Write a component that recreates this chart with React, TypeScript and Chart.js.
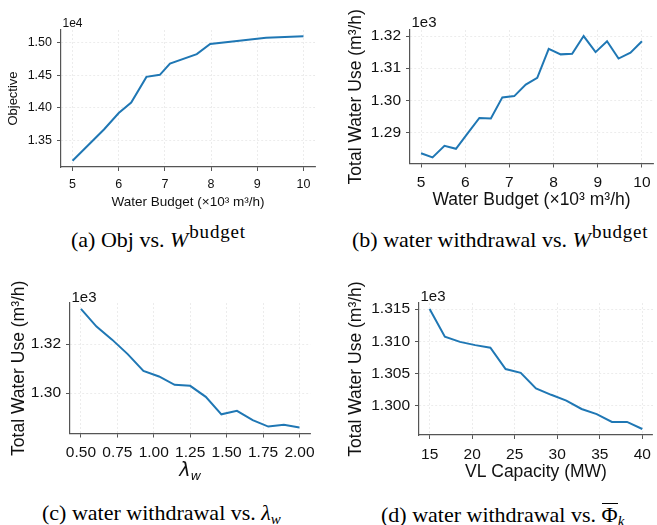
import React, { useEffect, useRef } from "react";
import { Chart, registerables } from "chart.js";

Chart.register(...registerables);

// (a) Objective vs. water budget (x: ×10³ m³/h, y: objective)
const budgetA = [5, 5.68, 6.0, 6.27, 6.6, 6.89, 7.11, 7.69, 7.98, 8.61, 9.19, 10];
const objectiveA = [13186, 13667, 13920, 14080, 14474, 14505, 14677, 14823, 14979, 15030, 15075, 15098];
const budgetTicksA = [5, 6, 7, 8, 9, 10];
const objectiveTicksA = [13500, 14000, 14500, 15000];

// (b) Total water use vs. water budget
const budgetB = [5, 5.26, 5.53, 5.79, 6.05, 6.32, 6.58, 6.84, 7.11, 7.37, 7.63, 7.89, 8.16, 8.42, 8.68, 8.95, 9.21, 9.47, 9.74, 10];
const waterB = [1283.5, 1282.2, 1285.8, 1284.9, 1289.6, 1294.5, 1294.3, 1300.9, 1301.3, 1304.9, 1307.0, 1316.0, 1314.3, 1314.5, 1320.0, 1315.0, 1318.4, 1313.0, 1314.8, 1318.4];
const budgetTicksB = [5, 6, 7, 8, 9, 10];
const waterTicksB = [1290, 1300, 1310, 1320];

// (c) Total water use vs. lambda_w
const lambdaC = [0.5, 0.607, 0.714, 0.821, 0.929, 1.036, 1.143, 1.25, 1.357, 1.464, 1.571, 1.679, 1.786, 1.893, 2.0];
const waterC = [1334.3, 1327.1, 1321.8, 1315.9, 1309.1, 1306.8, 1303.4, 1303.0, 1298.5, 1291.4, 1292.8, 1289.0, 1286.4, 1287.1, 1286.0];
const lambdaTicksC = [0.5, 0.75, 1.0, 1.25, 1.5, 1.75, 2.0];
const waterTicksC = [1300, 1320];

// (d) Total water use vs. VL capacity
const capacityD = [15, 16.79, 18.57, 20.36, 22.14, 23.93, 25.71, 27.5, 29.29, 31.07, 32.86, 34.64, 36.43, 38.21, 40];
const waterD = [1315.0, 1310.7, 1309.9, 1309.4, 1309.0, 1305.7, 1305.1, 1302.7, 1301.7, 1300.8, 1299.5, 1298.7, 1297.5, 1297.5, 1296.4];
const capacityTicksD = [15, 20, 25, 30, 35, 40];
const waterTicksD = [1300, 1305, 1310, 1315];

const SANS = '"Liberation Sans", Arial, Helvetica, sans-serif';
const SERIF = '"Liberation Serif", "Times New Roman", serif';

function span(v: number[]): [number, number] {
  const lo = Math.min(...v);
  const hi = Math.max(...v);
  const m = (hi - lo) * 0.05;
  return [lo - m, hi + m];
}

type PanelProps = {
  xs: number[];
  ys: number[];
  xTicks: number[];
  yTicks: number[];
  xFmt: (v: number) => string;
  yFmt: (v: number) => string;
  xTitle: string | null;
  yTitle: string;
  offsetText: string;
  left: number;
  top: number;
  width: number;
  height: number;
  padL: number;
  padT: number;
  padR: number;
  yW: number;
  xH: number;
  tickSize: number;
  xTitleSize: number;
  yTitleSize: number;
  offsetSize: number;
  offsetDy: number;
  lambdaTitleY?: number;
};

function Panel(p: PanelProps) {
  const ref = useRef<HTMLCanvasElement | null>(null);
  useEffect(() => {
    if (!ref.current) return;
    const [xmin, xmax] = span(p.xs);
    const [ymin, ymax] = span(p.ys);
    const extras = {
      id: "extras",
      afterDraw(chart: any) {
        const { ctx, chartArea } = chart;
        ctx.save();
        ctx.fillStyle = "#111";
        ctx.font = `${p.offsetSize}px ${SANS}`;
        ctx.textAlign = "left";
        ctx.textBaseline = "alphabetic";
        ctx.fillText(p.offsetText, chartArea.left + 1.5, chartArea.top - p.offsetDy);
        if (p.lambdaTitleY !== undefined) {
          const cx = (chartArea.left + chartArea.right) / 2;
          const f1 = `italic 19px "DejaVu Sans", sans-serif`;
          const f2 = `italic 13px "DejaVu Sans", sans-serif`;
          ctx.font = f1;
          const w1 = ctx.measureText("λ").width;
          ctx.font = f2;
          const w2 = ctx.measureText("w").width;
          const x0 = cx - (w1 + w2) / 2;
          ctx.font = f1;
          ctx.fillText("λ", x0, p.lambdaTitleY);
          ctx.font = f2;
          ctx.fillText("w", x0 + w1, p.lambdaTitleY + 3.5);
        }
        ctx.restore();
      },
    };
    const chart = new Chart(ref.current, {
      type: "line",
      data: {
        datasets: [
          {
            data: p.xs.map((x, i) => ({ x, y: p.ys[i] })),
            borderColor: "#1f77b4",
            borderWidth: 2,
            pointRadius: 0,
            fill: false,
            tension: 0,
          },
        ],
      },
      options: {
        animation: false,
        responsive: false,
        devicePixelRatio: 1,
        layout: { padding: { left: p.padL, top: p.padT, right: p.padR, bottom: 0 } },
        plugins: {
          legend: { display: false },
          tooltip: { enabled: false },
          title: { display: false },
        },
        scales: {
          x: {
            type: "linear",
            min: xmin,
            max: xmax,
            afterBuildTicks: (s: any) => {
              s.ticks = p.xTicks.map((v) => ({ value: v }));
            },
            afterFit: (s: any) => {
              s.height = p.xH;
            },
            ticks: {
              callback: (v: any) => p.xFmt(Number(v)),
              font: { family: SANS, size: p.tickSize },
              color: "#111",
              padding: 6,
              maxRotation: 0,
              autoSkip: false,
            },
            grid: {
              color: "#e8e8e8",
              lineWidth: 0.8,
              tickColor: "#555",
              tickLength: 4,
              tickWidth: 1,
            },
            border: { display: true, color: "#555", width: 1.2, dash: [2, 2] },
            title: {
              display: p.xTitle !== null,
              text: p.xTitle || "",
              font: { family: SANS, size: p.xTitleSize, lineHeight: 1.2 },
              color: "#111",
              padding: { top: 0, bottom: 0 },
            },
          },
          y: {
            type: "linear",
            min: ymin,
            max: ymax,
            afterBuildTicks: (s: any) => {
              s.ticks = p.yTicks.map((v) => ({ value: v }));
            },
            afterFit: (s: any) => {
              s.width = p.yW;
            },
            ticks: {
              callback: (v: any) => p.yFmt(Number(v)),
              font: { family: SANS, size: p.tickSize },
              color: "#111",
              padding: 5,
              autoSkip: false,
            },
            grid: {
              color: "#e8e8e8",
              lineWidth: 0.8,
              tickColor: "#555",
              tickLength: 4,
              tickWidth: 1,
            },
            border: { display: true, color: "#555", width: 1.2, dash: [2, 2] },
            title: {
              display: true,
              text: p.yTitle,
              font: { family: SANS, size: p.yTitleSize, lineHeight: 1.2 },
              color: "#111",
              padding: { top: 0, bottom: 0 },
            },
          },
        },
      },
      plugins: [extras],
    } as any);
    return () => chart.destroy();
  }, []);
  return (
    <canvas
      ref={ref}
      width={p.width}
      height={p.height}
      style={{ position: "absolute", left: p.left, top: p.top, width: p.width, height: p.height }}
    />
  );
}

const capStyle: React.CSSProperties = {
  position: "absolute",
  whiteSpace: "nowrap",
  fontFamily: SERIF,
  fontSize: 22,
  lineHeight: "26px",
  color: "#000",
};

const supStyle: React.CSSProperties = {
  fontSize: 19,
  position: "relative",
  top: -9,
  marginLeft: 1,
  letterSpacing: 0.8,
};

export default function App() {
  const f2 = (v: number) => v.toFixed(2);
  const fInt = (v: number) => String(v);
  return (
    <div
      style={{
        position: "absolute",
        left: 0,
        top: 0,
        width: 657,
        height: 525,
        overflow: "hidden",
        background: "#fff",
      }}
    >
      <Panel
        xs={budgetA}
        ys={objectiveA}
        xTicks={budgetTicksA}
        yTicks={objectiveTicksA}
        xFmt={fInt}
        yFmt={(v) => (v / 1e4).toFixed(2)}
        xTitle={"Water Budget (×10³ m³/h)"}
        yTitle={"Objective"}
        offsetText={"1e4"}
        left={0}
        top={0}
        width={325}
        height={210}
        padL={6}
        padT={30}
        padR={10}
        yW={55}
        xH={43}
        tickSize={12.5}
        xTitleSize={13.5}
        yTitleSize={13}
        offsetSize={12}
        offsetDy={3.3}
      />
      <Panel
        xs={budgetB}
        ys={waterB}
        xTicks={budgetTicksB}
        yTicks={waterTicksB}
        xFmt={fInt}
        yFmt={(v) => (v / 1e3).toFixed(2)}
        xTitle={"Water Budget (×10³ m³/h)"}
        yTitle={"Total Water Use (m³/h)"}
        offsetText={"1e3"}
        left={330}
        top={0}
        width={327}
        height={211}
        padL={16}
        padT={30}
        padR={4}
        yW={64}
        xH={47.5}
        tickSize={15.5}
        xTitleSize={17.5}
        yTitleSize={17.5}
        offsetSize={15}
        offsetDy={3}
      />
      <Panel
        xs={lambdaC}
        ys={waterC}
        xTicks={lambdaTicksC}
        yTicks={waterTicksC}
        xFmt={f2}
        yFmt={(v) => (v / 1e3).toFixed(2)}
        xTitle={null}
        yTitle={"Total Water Use (m³/h)"}
        offsetText={"1e3"}
        left={0}
        top={260}
        width={321}
        height={229}
        padL={8.5}
        padT={43}
        padR={10}
        yW={61.5}
        xH={55.5}
        tickSize={15.5}
        xTitleSize={17.5}
        yTitleSize={17.5}
        offsetSize={15}
        offsetDy={1.5}
        lambdaTitleY={216}
      />
      <Panel
        xs={capacityD}
        ys={waterD}
        xTicks={capacityTicksD}
        yTicks={waterTicksD}
        xFmt={fInt}
        yFmt={(v) => (v / 1e3).toFixed(3)}
        xTitle={"VL Capacity (MW)"}
        yTitle={"Total Water Use (m³/h)"}
        offsetText={"1e3"}
        left={330}
        top={260}
        width={327}
        height={223}
        padL={15.5}
        padT={43}
        padR={2}
        yW={73.5}
        xH={48}
        tickSize={15.5}
        xTitleSize={17.5}
        yTitleSize={17.5}
        offsetSize={15}
        offsetDy={2.5}
      />
      <div style={{ ...capStyle, left: 71, top: 227 }}>
        (a) Obj vs. <i>W</i>
        <span style={supStyle}>budget</span>
      </div>
      <div style={{ ...capStyle, left: 352, top: 227 }}>
        (b) water withdrawal vs. <i>W</i>
        <span style={supStyle}>budget</span>
      </div>
      <div style={{ ...capStyle, left: 42, top: 500 }}>
        (c) water withdrawal vs. <i>λ</i>
        <i style={{ fontSize: 15, position: "relative", top: 4 }}>w</i>
      </div>
      <div style={{ ...capStyle, left: 381, top: 502 }}>
        (d) water withdrawal vs.{" "}
        <span
          style={{
            display: "inline-block",
            borderTop: "1.3px solid #000",
            lineHeight: "19px",
            paddingTop: 1,
          }}
        >
          Φ
        </span>
        <i style={{ fontSize: 15, position: "relative", top: 4 }}>k</i>
      </div>
    </div>
  );
}
